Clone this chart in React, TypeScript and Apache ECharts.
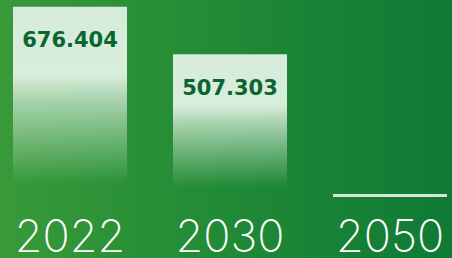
import React, { useEffect, useRef } from "react";
import * as echarts from "echarts";

const categories = ["2022", "2030", "2050"];
const values = [676.404, 507.303, 0];
const labels = ["676.404", "507.303", ""];

export default function App() {
  const ref = useRef<HTMLDivElement>(null);
  useEffect(() => {
    document.body.style.margin = "0";
    const chart = echarts.init(ref.current!, null, { renderer: "svg" });
    const fade = new echarts.graphic.LinearGradient(0, 0, 0, 1, [
      { offset: 0, color: "rgba(214,235,218,1)" },
      { offset: 0.36, color: "rgba(216,237,220,1)" },
      { offset: 0.5, color: "rgba(205,230,208,0.75)" },
      { offset: 0.93, color: "rgba(200,228,204,0)" },
      { offset: 1, color: "rgba(200,228,204,0)" },
    ]);
    chart.setOption({
      animation: false,
      grid: { left: 0, right: 0, top: 0, bottom: 61, outerBoundsMode: "none", containLabel: false },
      xAxis: {
        type: "category",
        data: categories,
        axisLine: { show: false },
        axisTick: { show: false },
        axisLabel: {
          color: "#ffffff",
          fontSize: 45,
          lineHeight: 34,
          fontFamily: "Inter",
          fontWeight: 200,
          margin: 21,
        },
      },
      yAxis: { type: "value", min: 0, max: 700, show: false, splitLine: { show: false } },
      series: [
        {
          type: "bar",
          barWidth: 114,
          barMinHeight: 3,
          data: values.map((v, i) => ({
            value: v,
            itemStyle: { color: v > 0 ? fade : "#d3e9d6" },
            label: {
              show: labels[i] !== "",
              formatter: labels[i],
            },
          })),
          label: {
            position: "insideTop",
            distance: 23,
            color: "#0b6530",
            fontSize: 21,
            fontWeight: "bold",
            fontFamily: "DejaVu Sans",
          },
        },
      ],
    });
    return () => chart.dispose();
  }, []);
  return (
    <div
      style={{
        position: "fixed",
        left: 0,
        top: 0,
        width: 452,
        height: 258,
        overflow: "hidden",
        background: "linear-gradient(90deg, #389a39 0%, #218a36 50%, #0e7a35 100%)",
      }}
    >
      <div
        ref={ref}
        style={{ position: "absolute", left: -10, top: 0, width: 480, height: 258 }}
      />
    </div>
  );
}
